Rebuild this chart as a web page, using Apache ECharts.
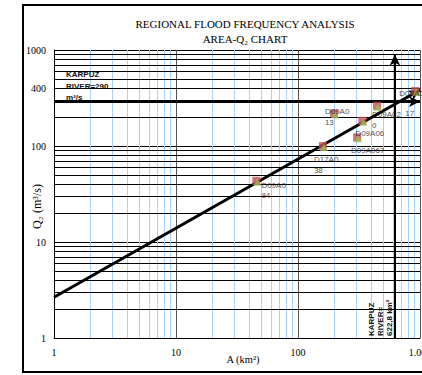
<!DOCTYPE html>
<html>
<head>
<meta charset="utf-8">
<script src="https://cdn.jsdelivr.net/npm/echarts@6/dist/echarts.min.js"></script>
<style>
  html, body { margin: 0; padding: 0; background: #fff; }
  #chart { width: 422px; height: 375px; }
</style>
</head>
<body>
<div id="chart"></div>
<script>
// Gauging stations: drainage area A (km²) and 2-year flood Q2 (m³/s)
const stations = ['D09A084', 'D17A038', 'D09A013', 'D09A020', 'D09A06', 'D09A067', 'D09A017'];
const stationLabels = ['D09A0\n84', 'D17A0\n38', 'D09A0\n13', 'D09A02\n0', 'D09A06', 'D09A067', 'D09A0\n{ind|17}'];
const areaKm2 = [45.6, 160, 197, 444, 337, 305, 914];
const q2 = [43.4, 99.8, 219, 262, 183, 123, 374];

// Regional Area–Q2 regression line, end points
const fitArea = [1, 1000];
const fitQ2 = [2.66, 383];

// Karpuz River: catchment area and the Q2
const karpuzArea = 622.8;
const karpuzQ2 = 290;
const karpuzArrowTop = 900;

// Axis range and tick labels
const axisMin = 1;
const axisMax = 1000;
const xTickLabels = { 1: '1', 10: '10', 100: '100', 1000: '1.000' };
const yTickLabels = { 1: '1', 10: '10', 100: '100', 1000: '1000' };
const yExtraTick = 400;

// Label placement (offset of the label's top-left corner from the marker centre, line height)
const labelOffsets = [[4, -2], [-10, 6], [-10, -9], [-6, 2], [-8, 6], [-7, 7], [-17, -9]];
const labelLineHeights = [10, 11, 11, 11, 10, 10, 20];

const SERIF = "'Liberation Serif', 'Times New Roman', serif";
const SANS_NARROW = "'Liberation Sans Narrow', 'Liberation Sans', Arial, sans-serif";

// Logarithmic minor grid: 2..9 inside every decade
const minorSteps = [2, 3, 4, 5, 6, 7, 8, 9];
const decades = [1, 10, 100];
const minorValues = [];
decades.forEach(d => minorSteps.forEach(m => minorValues.push(d * m)));

const gridLines = [];
minorValues.forEach(v => {
  gridLines.push({ xAxis: v, lineStyle: { color: '#a9d0f5', width: 1, type: 'solid' } });
});
minorValues.forEach(v => {
  const item = { yAxis: v, lineStyle: { color: '#000', width: 1, type: 'solid' } };
  if (v === yExtraTick) {
    item.label = {
      show: true, position: 'start', formatter: String(yExtraTick), distance: 8,
      fontFamily: SERIF, fontSize: 10, color: '#000'
    };
  }
  gridLines.push(item);
});

const pointData = areaKm2.map((a, i) => ({ name: stations[i], value: [a, q2[i]] }));
const labelledData = areaKm2.map((a, i) => ({
  name: stations[i],
  value: [a, q2[i]],
  label: {
    show: true,
    formatter: stationLabels[i],
    position: 'inside',
    align: 'left',
    verticalAlign: 'top',
    offset: labelOffsets[i],
    lineHeight: labelLineHeights[i],
    rich: {
      ind: { fontFamily: SANS_NARROW, fontSize: 8, color: '#222', padding: [0, 0, 0, 6], lineHeight: labelLineHeights[i] }
    }
  }
}));

const chart = echarts.init(document.getElementById('chart'), null, { renderer: 'svg' });

chart.setOption({
  backgroundColor: '#fff',
  animation: false,
  title: {
    text: 'REGIONAL FLOOD FREQUENCY ANALYSIS\nAREA-Q₂ CHART',
    left: 240,
    top: 11,
    textAlign: 'center',
    textStyle: { fontFamily: SERIF, fontSize: 11, fontWeight: 'normal', color: '#000', lineHeight: 15 }
  },
  graphic: [{
    type: 'rect',
    z: -10,
    shape: { x: 23, y: 5, width: 420, height: 367 },
    style: { fill: 'none', stroke: '#000', lineWidth: 2 }
  }],
  grid: { left: 54, right: 2, top: 50, bottom: 37, containLabel: false, outerBoundsMode: 'none' },
  xAxis: {
    type: 'log', logBase: 10, min: axisMin, max: axisMax,
    name: 'A (km²)', nameLocation: 'middle', nameGap: 16, nameMoveOverlap: false,
    nameTextStyle: { fontFamily: SERIF, fontSize: 10.5, color: '#000', padding: [0, 0, 0, 12] },
    axisLine: { show: true, lineStyle: { color: '#000', width: 1 } },
    axisTick: { show: false },
    axisLabel: {
      fontFamily: SERIF, fontSize: 10, color: '#000', margin: 9,
      formatter: v => xTickLabels[Math.round(v)] ?? ''
    },
    splitLine: { show: true, lineStyle: { color: '#555', width: 1 } }
  },
  yAxis: {
    type: 'log', logBase: 10, min: axisMin, max: axisMax,
    name: 'Q₂ (m³/s)', nameLocation: 'middle', nameGap: 11, nameMoveOverlap: false,
    nameTextStyle: { fontFamily: SERIF, fontSize: 12, color: '#000', padding: [0, 25, 0, 0] },
    axisLine: { show: true, lineStyle: { color: '#000', width: 1 } },
    axisTick: { show: false },
    axisLabel: {
      fontFamily: SERIF, fontSize: 10, color: '#000', margin: 8,
      formatter: v => yTickLabels[Math.round(v)] ?? ''
    },
    splitLine: { show: true, lineStyle: { color: '#000', width: 1 } }
  },
  series: [
    {
      // minor log grid
      type: 'scatter', data: [], silent: true, z: 1,
      markLine: {
        silent: true, z: 1, symbol: ['none', 'none'], animation: false,
        label: { show: false },
        data: gridLines
      }
    },
    {
      // regression line and Karpuz River read-off arrows
      type: 'scatter', data: [], silent: true, z: 3,
      markLine: {
        silent: true, z: 3, animation: false,
        symbol: ['none', 'arrow'], symbolSize: [8, 11],
        lineStyle: { color: '#000', type: 'solid' },
        label: { show: false },
        data: [
          [
            { coord: [fitArea[0], fitQ2[0]], lineStyle: { width: 3 } },
            { coord: [fitArea[1], fitQ2[1]] }
          ],
          [
            {
              coord: [axisMin, karpuzQ2], lineStyle: { width: 3 },
              label: {
                show: true, position: 'insideStartTop', distance: [12, -2],
                formatter: 'KARPUZ\nRIVER=' + karpuzQ2 + '\nm³/s',
                align: 'left',
                fontFamily: SANS_NARROW, fontSize: 8, fontWeight: 'bold', color: '#111', lineHeight: 11.5
              }
            },
            { coord: [axisMax, karpuzQ2] }
          ],
          [
            {
              coord: [karpuzArea, axisMin], lineStyle: { width: 2 },
              label: {
                show: true, position: 'insideStartTop', distance: [2, 1],
                formatter: 'KARPUZ\nRIVER=\n' + String(karpuzArea).replace('.', ',') + ' km²',
                fontFamily: SANS_NARROW, fontSize: 8, fontWeight: 'bold', color: '#111', lineHeight: 9
              }
            },
            { coord: [karpuzArea, karpuzArrowTop] }
          ]
        ]
      }
    },
    {
      name: 'Q2 observed',
      type: 'scatter', z: 4,
      symbol: 'rect', symbolSize: 8,
      itemStyle: { color: '#C0504D' },
      data: pointData
    },
    {
      name: 'Q2 stations',
      type: 'scatter', z: 5,
      symbol: 'triangle', symbolSize: [8, 7], symbolOffset: [1, 1.5],
      itemStyle: { color: '#9BBB59' },
      label: { fontFamily: SANS_NARROW, fontSize: 8, color: '#222' },
      data: labelledData
    }
  ]
});
</script>
</body>
</html>
